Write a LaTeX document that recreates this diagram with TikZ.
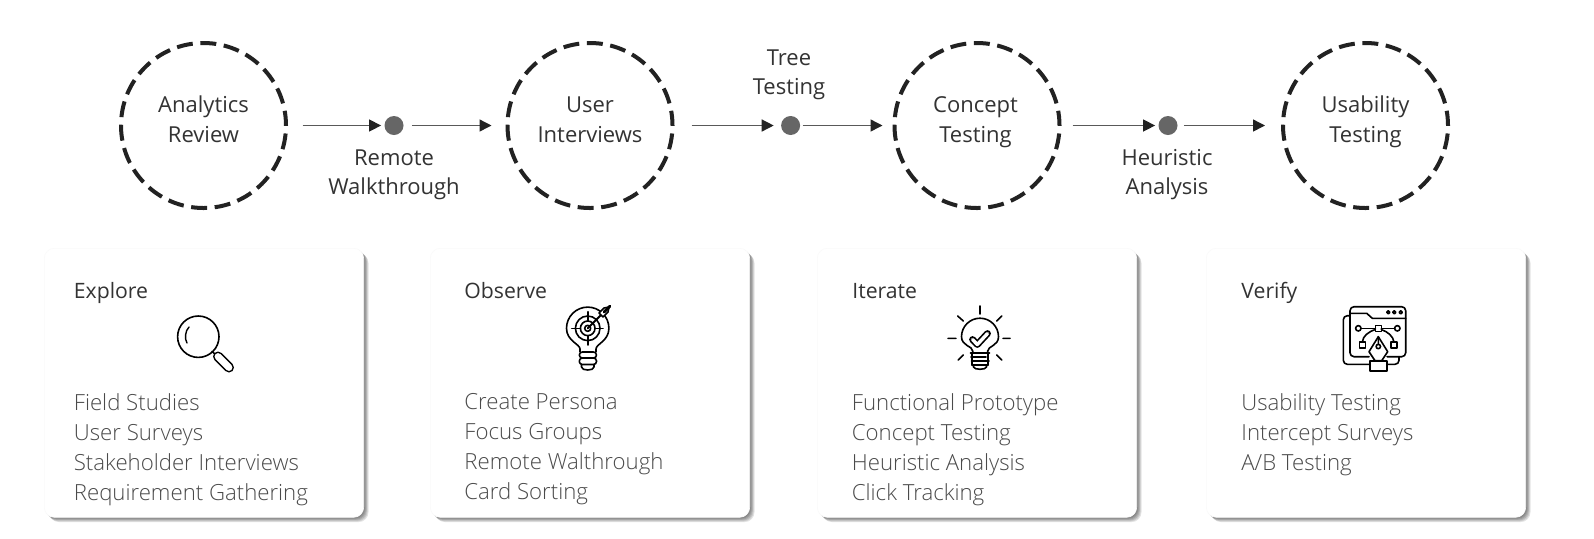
\documentclass[tikz,border=0pt]{standalone}
\usepackage{fontspec}
\setmainfont{Open Sans}
\newfontfamily\lightf{Open Sans Light}
\usetikzlibrary{arrows.meta}
\definecolor{ink}{HTML}{222222}
\definecolor{hd}{HTML}{333333}
\definecolor{bd}{HTML}{4A4A4A}
\tikzset{
 x=0.5pt,y=-0.5pt,
 stage/.style={circle,draw=ink,line width=2pt,dash pattern=on 8pt off 3.8pt,dash phase=0.6pt,minimum size=165*0.5pt,inner sep=0pt},
 waydot/.style={circle,fill=black!60,inner sep=0pt,minimum size=9.5pt},
 link/.style={draw=black!65,line width=0.7pt,-{Triangle[length=6pt,width=6pt,color=ink]}},
 waylabel/.style={align=center,text=hd,inner sep=0pt,font=\fontsize{11}{14.9}\selectfont},
 cardbox/.style={rounded corners=5pt,fill=white,draw=black!2,line width=0.3pt,minimum width=159.7pt,minimum height=134.5pt,inner sep=0pt,anchor=north west},
 cardhead/.style={anchor=base west,text=hd,inner sep=0pt,font=\fontsize{10.6}{12}\selectfont},
 cardlist/.style={anchor=north west,align=left,text=bd,inner sep=0pt,font=\lightf\fontsize{11.1}{14.9}\selectfont},
 ico/.style={draw=black,line width=0.8pt,line cap=round,line join=round},
}
\newcommand{\cardat}[2]{%
 \foreach \k in {1,...,6}{\fill[black,opacity=.11,rounded corners=5pt] (#2+\k*0.85,248+\k*0.85) rectangle ++(319.4,269);}
 \node[cardbox] (#1) at (#2,248) {};}
\begin{document}
\begin{tikzpicture}
\useasboundingbox (0,0) rectangle (1594,538);
\fill[white] (0,0) rectangle (1594,538);
% stages
\node[stage] (s1) at (203.5,125.5) {};
\node[stage] (s2) at (590,125.5) {};
\node[stage] (s3) at (977,125.5) {};
\node[stage] (s4) at (1365.5,125.5) {};
\node[waylabel] (n1) at (203.5,121.6) {\strut Analytics\\\strut Review};
\node[waylabel] (n2) at (590,121.6) {\strut User\\\strut Interviews};
\node[waylabel] (n3) at (975.5,121.6) {\strut Concept\\\strut Testing};
\node[waylabel] (n4) at (1365.5,121.6) {\strut Usability\\\strut Testing};
\node[waydot] (d1) at (394,125.5) {};
\node[waydot] (d2) at (790.6,125.5) {};
\node[waydot] (d3) at (1168,125.5) {};
\draw[link,shorten <=14.5*0.5pt,shorten >=3*0.5pt] (s1.east) -- (d1.west);
\draw[link,shorten <=8*0.5pt,shorten >=14*0.5pt] (d1.east) -- (s2.west);
\draw[link,shorten <=17*0.5pt,shorten >=7*0.5pt] (s2.east) -- (d2.west);
\draw[link,shorten <=2*0.5pt,shorten >=10*0.5pt] (d2.east) -- (s3.west);
\draw[link,shorten <=11*0.5pt,shorten >=3*0.5pt] (s3.east) -- (d3.west);
\draw[link,shorten <=6*0.5pt,shorten >=16*0.5pt] (d3.east) -- (s4.west);
\node[waylabel] (l1) at (394,174) {\strut Remote\\\strut Walkthrough};
\node[waylabel] (l2) at (789,74) {\strut Tree\\\strut Testing};
\node[waylabel] (l3) at (1167,174) {\strut Heuristic\\\strut Analysis};
% cards
\cardat{c1}{44}
\cardat{c2}{430}
\cardat{c3}{817}
\cardat{c4}{1206}
\node[cardhead] (h1) at (73.5,298.3) {Explore};
\node[cardhead] (h2) at (464,298.3) {Observe};
\node[cardhead] (h3) at (852,298.3) {Iterate};
\node[cardhead] (h4) at (1241,298.3) {Verify};
\node[cardlist] (t1) at (73.5,393.5) {Field Studies\\User Surveys\\Stakeholder Interviews\\Requirement Gathering};
\node[cardlist] (t2) at (464,393.5) {Create Persona\\Focus Groups\\Remote Walthrough\\Card Sorting};
\node[cardlist] (t3) at (851.5,393.5) {Functional Prototype\\Concept Testing\\Heuristic Analysis\\Click Tracking};
\node[cardlist] (t4) at (1241,393.5) {Usability Testing\\Intercept Surveys\\A/B Testing};
% magnifier
\draw[ico] (198.3,336.7) circle (20.7);
\draw[ico,line width=0.7pt] (189,327) .. controls (185,331) and (184.5,339) .. (187,343);
\draw[ico] (212,351.5) -- (215,354);
\draw[black,line width=5pt,line cap=round] (218,356.5) -- (229,367.5);
\draw[white,line width=3.4pt,line cap=round] (218,356.5) -- (229,367.5);
% target bulb
\draw[ico] (580,351.7) -- (580,349) .. controls (580,344) and (566.5,341) .. (566.5,328.3) arc[start angle=180,end angle=360,radius=21.2] .. controls (608.9,341) and (596,344) .. (596,349) -- (596,351.7);
\draw[ico,rounded corners=1.5pt] (579.3,352) rectangle (596.5,358);
\draw[ico,rounded corners=1.5pt] (579.3,358) rectangle (596.5,364.5);
\draw[ico] (581.5,364.5) -- (581.5,367) .. controls (581.5,371) and (594,371) .. (594,367) -- (594,364.5);
\draw[ico] (587.7,328.3) circle (12.3);
\draw[ico] (587.7,328.3) circle (7.3);
\draw[ico] (587.7,328.3) circle (3);
\draw[ico] (571.7,328.3) -- (580.4,328.3) (595,328.3) -- (603,328.3);
\draw[ico] (587.7,311.7) -- (587.7,321) (587.7,335.6) -- (587.7,345);
\draw[ico,line width=1pt] (587.7,328.3) -- (603,313);
\draw[ico,fill=white] (599,313) -- (604,308) -- (609,307) -- (608,312) -- (603,317) -- cycle;
\draw[black,line width=1.4pt,line cap=round] (604,312) -- (610,306);
% check bulb
\draw[ico] (972.7,353) -- (972.7,351) .. controls (972.7,346) and (961.5,346) .. (961.5,336.7) arc[start angle=180,end angle=360,radius=18.5] .. controls (998.5,346) and (987.7,346) .. (987.7,351) -- (987.7,353);
\draw[ico] (970.5,353) -- (989.5,353) (971,357) -- (986,357) (971.5,361) -- (989,361) (972,365) -- (988,365);
\draw[ico] (972,353) -- (972,365) (988,353) -- (988,365);
\draw[ico] (973.5,365) -- (973.5,367) .. controls (974,370) and (986,370) .. (986.5,367) -- (986.5,365);
\draw[ico] (980,306) -- (980,314) (948,338.3) -- (956,338.3) (1003,338.3) -- (1010,338.3)
 (957.7,316) -- (963.3,321) (1001.7,316) -- (996.7,321) (958.3,360) -- (963.3,355) (1001.7,360) -- (996.7,355);
\draw[black,line width=3.4pt,line cap=round,line join=round] (972.5,339.5) -- (977.3,344.5) -- (987.5,333.5);
\draw[white,line width=1.7pt,line cap=round,line join=round] (972.5,339.5) -- (977.3,344.5) -- (987.5,333.5);
% design icon
\draw[ico,rounded corners=2pt] (1350,315.7) -- (1343.3,315.7) -- (1343.3,364.3) -- (1399,364.3) -- (1399,356.7);
\draw[ico,rounded corners=2pt] (1369,356.7) -- (1350,356.7) -- (1350,306.7) -- (1405.7,306.7) -- (1405.7,356.7) -- (1387,356.7);
\draw[ico] (1350,313.3) -- (1366.7,313.3) -- (1372.3,318.3) -- (1405.7,318.3);
\draw[ico,line width=0.8pt] (1388.3,312.3) circle (1.6) (1394.3,312.3) circle (1.6) (1400.7,312.3) circle (1.6);
\draw[ico] (1361,328.3) -- (1375.3,328.3) (1381.3,328.3) -- (1394.6,328.3);
\draw[ico] (1358.3,328.3) circle (2.7) (1397.3,328.3) circle (2.7);
\draw[ico] (1375.3,325.3) rectangle (1381.3,331.3);
\draw[ico] (1375.3,329.5) .. controls (1368,332) and (1363,336) .. (1362.3,342);
\draw[ico] (1381.3,329.5) .. controls (1388,332) and (1393,336) .. (1394,342);
\draw[ico] (1359.3,342) rectangle (1365.3,348);
\draw[ico] (1391,342) rectangle (1397,348);
\draw[ico,fill=white] (1378.3,336.7) -- (1369,351.7) -- (1375,360.7) -- (1381.7,360.7) -- (1387.7,351.7) -- cycle;
\draw[ico] (1378.3,336.7) -- (1378.3,344) (1378.3,346.5) circle (2.2);
\draw[ico,fill=white] (1370,360.7) rectangle (1386.7,371);
\end{tikzpicture}
\end{document}
